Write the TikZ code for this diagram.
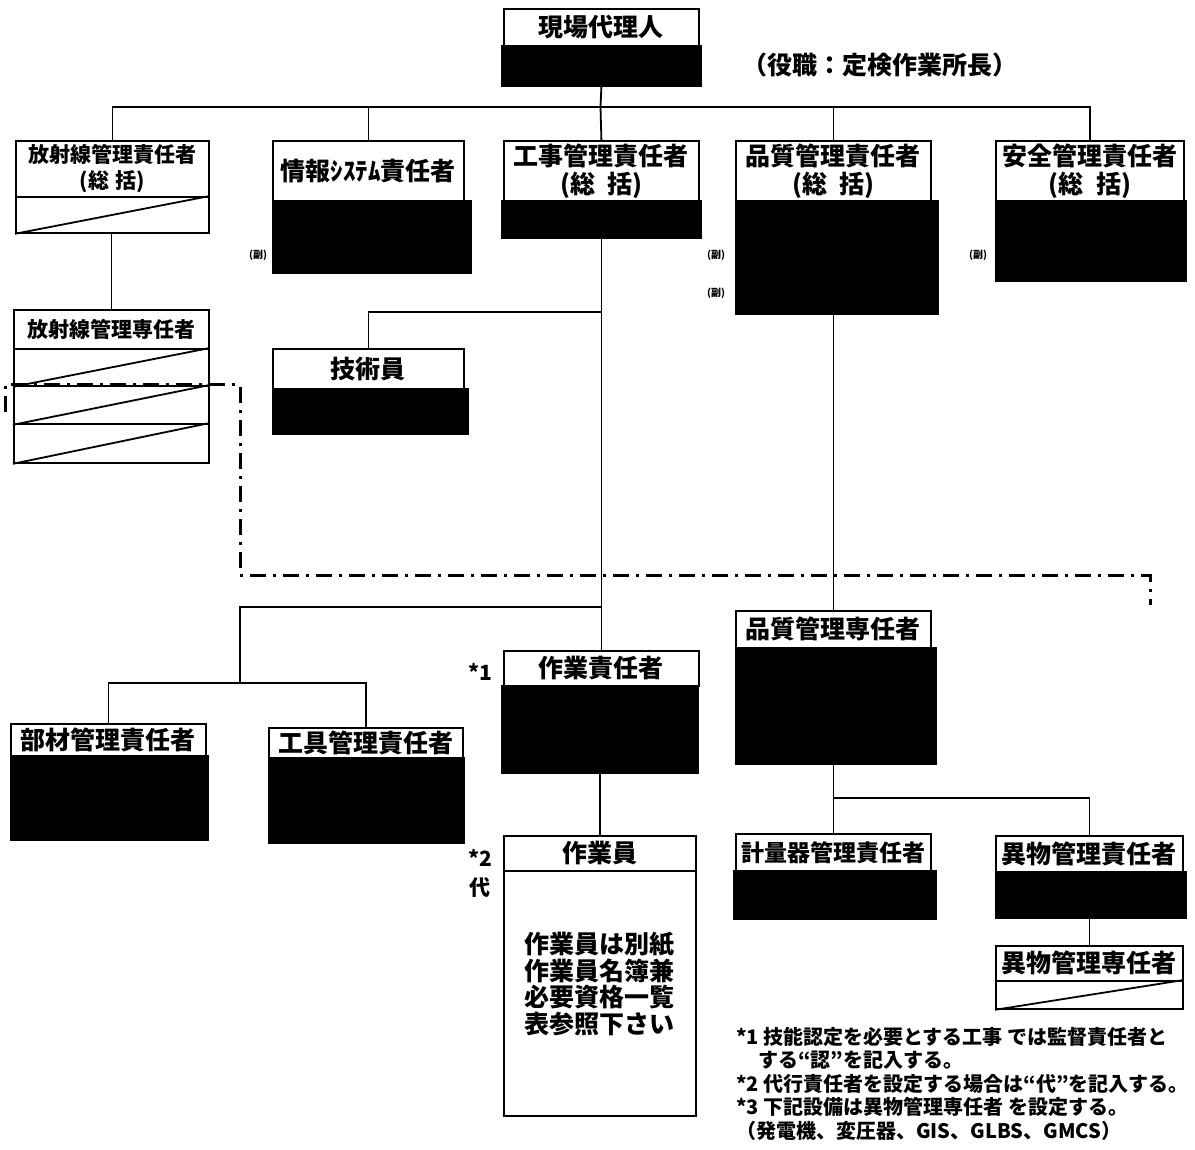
\documentclass[tikz,border=0pt]{standalone}
\usepackage{fontspec}
\setmainfont{Noto Sans CJK JP}

\begin{document}
\begin{tikzpicture}[x=1pt,y=-1pt,
  head/.style={draw,fill=white,line width=1.8pt,anchor=north west,inner sep=0pt,align=center,font=\bfseries\fontsize{25}{28}\selectfont},
  blk/.style={draw,fill=black,line width=1.8pt,anchor=north west,inner sep=0pt},
  wbox/.style={draw,fill=white,line width=1.8pt,anchor=north west,inner sep=0pt},
  conn/.style={line width=1.8pt},
  fuku/.style={inner sep=0pt,font=\bfseries\fontsize{10}{10}\selectfont},
  memo/.style={inner sep=0pt,font=\bfseries\fontsize{21}{24}\selectfont}]
\useasboundingbox (0,0) rectangle (1195,1150);

% 現場代理人
\node[head,minimum width=195pt,minimum height=37pt] (dairi) at (503,8) {現場代理人};
\node[blk,minimum width=199pt,minimum height=40pt] (dairiB) at (501,45) {};
\node[font=\bfseries\fontsize{25}{28}\selectfont] (yaku) at (880,65) {（役職：定検作業所長）};

% 総括
\node[head,minimum width=193pt,minimum height=56pt,font=\bfseries\fontsize{21}{26}\selectfont] (hosha) at (15,140) {放射線管理責任者\\(総\hspace{0.3em}括)};
\node[wbox,minimum width=193pt,minimum height=36pt] (hoshaS) at (15,196) {};
\node[head,minimum width=191pt,minimum height=60pt] (joho) at (272,140) {情報ｼｽﾃﾑ責任者};
\node[blk,minimum width=198pt,minimum height=72pt] (johoB) at (272,200) {};
\node[fuku] (johoF) at (258,255) {(副)};
\node[head,minimum width=195pt,minimum height=60pt] (koji) at (503,140) {工事管理責任者\\(総\hspace{0.5em}括)};
\node[blk,minimum width=199pt,minimum height=37pt] (kojiB) at (501,200) {};
\node[head,minimum width=195pt,minimum height=60pt] (hin) at (735,140) {品質管理責任者\\(総\hspace{0.5em}括)};
\node[blk,minimum width=202pt,minimum height=113pt] (hinB) at (735,200) {};
\node[fuku] (hinF1) at (716,255) {(副)};
\node[fuku] (hinF2) at (716,293) {(副)};
\node[head,minimum width=188pt,minimum height=60pt] (anzen) at (995,140) {安全管理責任者\\(総\hspace{0.5em}括)};
\node[blk,minimum width=190pt,minimum height=80pt] (anzenB) at (995,200) {};
\node[fuku] (anzenF) at (978,255) {(副)};

\coordinate (bus) at (600.5,107);
\draw[conn] (dairiB.south) -- (bus);
\draw[conn] (hosha.north) |- (bus) -| (anzen.north);
\draw[conn] (joho.north) -- (joho.north |- bus);
\draw[conn] (bus) -- (koji.north);
\draw[conn] (hin.north) -- (hin.north |- bus);
\draw[conn] (hoshaS.south west) -- (hoshaS.north east);

% 放射線管理専任者
\node[head,minimum width=195pt,minimum height=39pt,font=\bfseries\fontsize{21}{26}\selectfont] (sen) at (13,309) {放射線管理専任者};
\node[wbox,minimum width=195pt,minimum height=37pt] (senS1) at (13,348) {};
\node[wbox,minimum width=195pt,minimum height=38pt] (senS2) at (13,385) {};
\node[wbox,minimum width=195pt,minimum height=39pt] (senS3) at (13,423) {};
\draw[conn] (senS1.south west) -- (senS1.north east);
\draw[conn] (senS2.south west) -- (senS2.north east);
\draw[conn] (senS3.south west) -- (senS3.north east);
\draw[conn] (sen.north) -- (sen.north |- hoshaS.south);

% 技術員
\node[head,minimum width=191pt,minimum height=40pt] (giju) at (272,348) {技術員};
\node[blk,minimum width=195pt,minimum height=45pt] (gijuB) at (272,388) {};

% 作業責任者・作業員
\node[head,minimum width=195pt,minimum height=35pt] (sagyo) at (503,650) {作業責任者};
\node[blk,minimum width=196pt,minimum height=87pt] (sagyoB) at (501,685) {};
\node[memo] (ast1) at (480,672) {*1};
\node[head,minimum width=192pt,minimum height=35pt] (sagyoin) at (503,835) {作業員};
\node[wbox,minimum width=192pt,minimum height=245pt] (sagyoinBody) at (503,870) {};
\node[align=center,inner sep=0pt,font=\bfseries\fontsize{25}{26.5}\selectfont] (sagyoinTxt) at (599,984) {作業員は別紙\\作業員名簿兼\\必要資格一覧\\表参照下さい};
\node[memo] (ast2) at (480,858) {*2};
\node[memo] (dai) at (480,888) {代};

\coordinate (kbr1) at (600.5,312);
\coordinate (kbr2) at (600.5,607);
\coordinate (tbr) at (240,683);
\draw[conn] (kojiB.south) -- (sagyo.north);
\draw[conn] (giju.north) |- (kbr1);
\draw[conn] (kbr2) -| (tbr);
\draw[conn] (sagyoB.south) -- (sagyoin.north);

% 部材・工具
\node[head,minimum width=195pt,minimum height=32pt] (buzai) at (10,723) {部材管理責任者};
\node[blk,minimum width=197pt,minimum height=84pt] (buzaiB) at (10,755) {};
\node[head,minimum width=194pt,minimum height=30pt] (kogu) at (268,727) {工具管理責任者};
\node[blk,minimum width=195pt,minimum height=85pt] (koguB) at (268,757) {};
\draw[conn] (buzai.north) |- (tbr) -| (kogu.north);

% 品質管理専任者以下
\node[head,minimum width=195pt,minimum height=37pt] (hinS) at (735,610) {品質管理専任者};
\node[blk,minimum width=200pt,minimum height=116pt] (hinSB) at (735,647) {};
\draw[conn] (hinS.north) -- (hinS.north |- hinB.south);
\node[head,minimum width=195pt,minimum height=37pt,font=\bfseries\fontsize{23}{26}\selectfont] (keiryo) at (735,833) {計量器管理責任者};
\node[blk,minimum width=202pt,minimum height=48pt] (keiryoB) at (733,870) {};
\node[head,minimum width=187pt,minimum height=36pt] (ibutsu) at (995,835) {異物管理責任者};
\node[blk,minimum width=190pt,minimum height=46pt] (ibutsuB) at (995,871) {};
\node[head,minimum width=187pt,minimum height=35pt] (ibutsuS) at (995,945) {異物管理専任者};
\node[wbox,minimum width=187pt,minimum height=28pt] (ibutsuSS) at (995,980) {};
\draw[conn] (ibutsuSS.south west) -- (ibutsuSS.north east);
\coordinate (qbr) at (832.5,798);
\draw[conn] (keiryo.north) -- (keiryo.north |- hinSB.south);
\draw[conn] (qbr) -| (ibutsu.north);
\draw[conn] (ibutsuS.north) -- (ibutsuS.north |- ibutsuB.south);

% 一点鎖線
\draw[line width=3pt,dash pattern=on 16pt off 7pt on 3pt off 7pt] (5,412) -- (5,385) -- (240,385) -- (240,575) -- (1150,575) -- (1150,605);

% 注記
\node[anchor=north west,align=left,inner sep=0pt,font=\bfseries\fontsize{20}{23.5}\selectfont] (notes) at (736,1027)
  {*1 技能認定を必要とする工事 では監督責任者と\\\hspace*{1.1em}する“認”を記入する。\\{}*2 代行責任者を設定する場合は“代”を記入する。\\{}*3 下記設備は異物管理専任者 を設定する。\\（発電機、変圧器、GIS、GLBS、GMCS）};
\end{tikzpicture}
\end{document}
